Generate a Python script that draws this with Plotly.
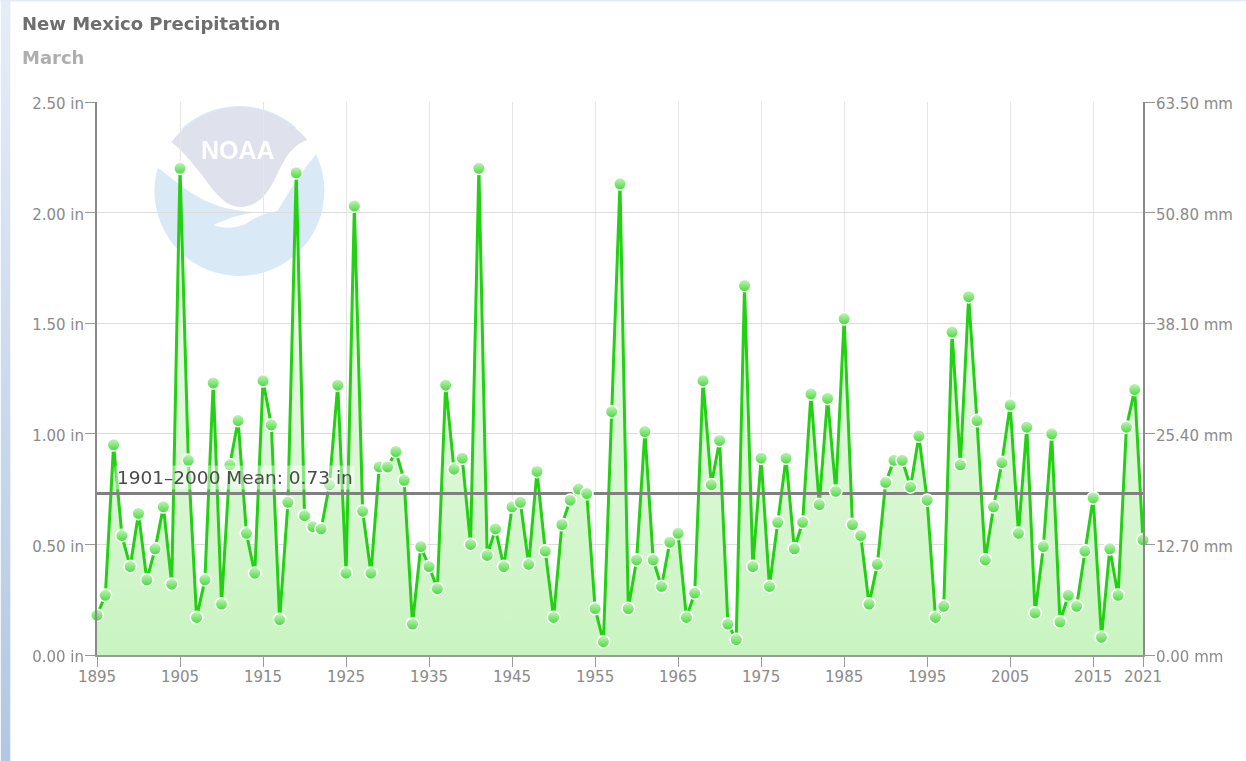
import base64
import plotly.graph_objects as go

years = list(range(1895, 2022))
precip_in = [
    .18, .27, .95, .54, .40, .64, .34, .48, .67, .32,
    2.20, .88, .17, .34, 1.23, .23, .86, 1.06, .55, .37,
    1.24, 1.04, .16, .69, 2.18, .63, .58, .57, .77, 1.22,
    .37, 2.03, .65, .37, .85, .85, .92, .79, .14, .49,
    .40, .30, 1.22, .84, .89, .50, 2.20, .45, .57, .40,
    .67, .69, .41, .83, .47, .17, .59, .70, .75, .73,
    .21, .06, 1.10, 2.13, .21, .43, 1.01, .43, .31, .51,
    .55, .17, .28, 1.24, .77, .97, .14, .07, 1.67, .40,
    .89, .31, .60, .89, .48, .60, 1.18, .68, 1.16, .74,
    1.52, .59, .54, .23, .41, .78, .88, .88, .76, .99,
    .70, .17, .22, 1.46, .86, 1.62, 1.06, .43, .67, .87,
    1.13, .55, 1.03, .19, .49, 1.00, .15, .27, .22, .47,
    .71, .08, .48, .27, 1.03, 1.20, .52,
]
mean_value = 0.73
x_ticks = [1895, 1905, 1915, 1925, 1935, 1945, 1955, 1965, 1975, 1985, 1995, 2005, 2015, 2021]
y_ticks = [0, 0.5, 1.0, 1.5, 2.0, 2.5]
y_labels = ["0.00 in", "0.50 in", "1.00 in", "1.50 in", "2.00 in", "2.50 in"]
y2_ticks = [0, 12.7, 25.4, 38.1, 50.8, 63.5]
y2_labels = ["0.00 mm", "12.70 mm", "25.40 mm", "38.10 mm", "50.80 mm", "63.50 mm"]

W, H = 1246, 761
L, R, T, B = 96.5, 1143, 102, 655
FONT = "DejaVu Sans"
TICK = "#8a8a8a"


def px(x):
    return (x - L) / (R - L)


def py(y):
    return (B - y) / (B - T)


def path(cmds):
    out = []
    for c in cmds:
        vals = c[1:]
        pts = [f"{px(vals[i]):.5f},{py(vals[i + 1]):.5f}" for i in range(0, len(vals), 2)]
        out.append(c[0] + " ".join(pts))
    return " ".join(out) + " Z"


strip_svg = (
    f'<svg xmlns="http://www.w3.org/2000/svg" width="10" height="{H}" preserveAspectRatio="none">'
    '<defs><linearGradient id="g" x1="0" y1="0" x2="0" y2="1">'
    '<stop offset="0" stop-color="#e6edf8"/><stop offset="1" stop-color="#b2c7e3"/>'
    '</linearGradient></defs>'
    f'<rect width="10" height="{H}" fill="url(#g)"/></svg>'
)
strip_uri = "data:image/svg+xml;base64," + base64.b64encode(strip_svg.encode()).decode()

fig = go.Figure()
fig.add_trace(go.Scatter(
    x=years, y=precip_in, mode="lines", cliponaxis=False, hoverinfo="skip",
    line=dict(color="#24d014", width=3),
    fill="tozeroy",
    fillgradient=dict(type="vertical", start=0, stop=2.2,
                      colorscale=[[0, "#c9f4c1"], [1, "#f4fdf2"]]),
))
fig.add_trace(go.Scatter(
    x=[years[0], years[-1]], y=[mean_value, mean_value], mode="lines", hoverinfo="skip",
    line=dict(color="#808080", width=3),
))
fig.add_trace(go.Scatter(
    x=years, y=precip_in, mode="markers", cliponaxis=False,
    marker=dict(size=12.5, color="#c4f5bb", line=dict(color="#ffffff", width=1.5),
                gradient=dict(type="vertical", color="#45da3a")),
))
fig.add_trace(go.Scatter(
    x=[years[0], years[-1]], y=[0, 63.5], yaxis="y2", mode="markers", opacity=0,
    hoverinfo="skip",
))

shapes = [
    dict(type="rect", xref="paper", yref="paper", x0=px(0), x1=px(W), y0=py(1.5), y1=py(0),
         fillcolor="#e3eaf6", line_width=0, layer="below"),
    dict(type="circle", xref="paper", yref="paper", x0=px(154), x1=px(324), y0=py(106), y1=py(276),
         fillcolor="#d9e9f5", line_width=0, layer="below"),
    # white swoosh separating the two halves of the logo
    dict(type="path", xref="paper", yref="paper", layer="below", line_width=0, fillcolor="#ffffff",
         path=path([("M", 150, 130), ("L", 166, 132), ("L", 157, 168),
                    ("C", 175, 178, 200, 212, 257, 212),
                    ("C", 240, 214, 225, 219, 213, 225),
                    ("C", 225, 230, 240, 228, 250, 221),
                    ("C", 258, 216, 268, 212, 277, 211),
                    ("C", 287, 195, 300, 172, 315, 155),
                    ("L", 322, 128)])),
    dict(type="path", xref="paper", yref="paper", layer="below", line_width=0, fillcolor="#dfe2ec",
         path=path([("M", 171, 142), ("C", 190, 118, 215, 107, 240, 107),
                    ("C", 265, 107, 290, 120, 307, 140),
                    ("C", 290, 146, 285, 158, 275, 178),
                    ("C", 268, 192, 258, 207, 240, 207),
                    ("C", 215, 207, 205, 170, 171, 142)])),
]

images = [dict(source=strip_uri, xref="paper", yref="paper", x=px(0), y=py(0),
               sizex=px(10) - px(0), sizey=py(0) - py(H), sizing="stretch",
               xanchor="left", yanchor="top", layer="below")]

annotations = [
    dict(text="<b>New Mexico Precipitation</b>", x=px(19), y=py(23), xref="paper", yref="paper",
         xanchor="left", yanchor="middle", showarrow=False,
         font=dict(family=FONT, size=18, color="#6e6e6e")),
    dict(text="<b>March</b>", x=px(19), y=py(58), xref="paper", yref="paper",
         xanchor="left", yanchor="middle", showarrow=False,
         font=dict(family=FONT, size=18, color="#aeaeae")),
    dict(text="<b>NOAA</b>", x=px(238), y=py(150), xref="paper", yref="paper",
         xanchor="center", yanchor="middle", showarrow=False,
         font=dict(family="Liberation Sans", size=25, color="#ffffff")),
    dict(text="1901\u20132000 Mean: 0.73 in", x=px(115), y=py(477), xref="paper", yref="paper",
         xanchor="left", yanchor="middle", showarrow=False, borderpad=1,
         bgcolor="rgba(255,255,255,0.45)",
         font=dict(family=FONT, size=18.5, color="#4a4a4a")),
]

fig.update_layout(
    width=W, height=H, autosize=False, showlegend=False,
    margin=dict(l=L, r=W - R, t=T, b=H - B, pad=0),
    paper_bgcolor="#ffffff", plot_bgcolor="rgba(0,0,0,0)",
    shapes=shapes, images=images, annotations=annotations,
    xaxis=dict(range=[1895, 2021], tickvals=x_ticks, ticktext=[str(v) for v in x_ticks],
               showgrid=True, gridcolor="#e6e6e6", gridwidth=1, zeroline=False,
               showline=True, linecolor="#999999", linewidth=2,
               ticks="outside", ticklen=10, tickcolor="#999999", tickwidth=1,
               ticklabelstandoff=-3,
               tickfont=dict(family=FONT, size=15, color=TICK)),
    yaxis=dict(range=[0, 2.5], tickvals=y_ticks, ticktext=y_labels,
               showgrid=True, gridcolor="#dcdcdc", gridwidth=1, zeroline=False,
               showline=True, linecolor="#8a8a8a", linewidth=2,
               ticks="outside", ticklen=10, tickcolor="#999999", tickwidth=1,
               ticklabelstandoff=-2, ticklabelshift=2,
               tickfont=dict(family=FONT, size=15, color=TICK)),
    yaxis2=dict(range=[0, 63.5], tickvals=y2_ticks, ticktext=y2_labels, overlaying="y", side="right",
                showgrid=False, zeroline=False,
                showline=True, linecolor="#8a8a8a", linewidth=2,
                ticks="outside", ticklen=10, tickcolor="#999999", tickwidth=1,
                ticklabelstandoff=-2, ticklabelshift=2,
                tickfont=dict(family=FONT, size=15, color=TICK)),
)

fig.write_html("out.html", config=dict(displayModeBar=False),
               post_script="document.body.style.margin='0';document.body.style.overflow='hidden';")
